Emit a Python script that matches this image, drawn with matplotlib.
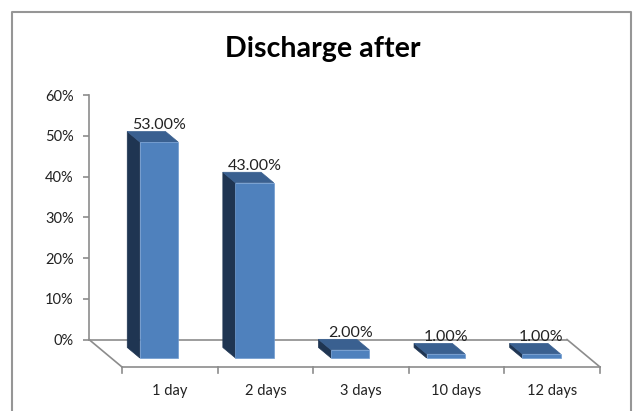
import matplotlib
matplotlib.use('Agg')
import matplotlib.pyplot as plt
from matplotlib.lines import Line2D
from matplotlib.patches import Polygon

categories = ['1 day', '2 days', '3 days', '10 days', '12 days']
values = [53, 43, 2, 1, 1]
value_labels = ['53.00%', '43.00%', '2.00%', '1.00%', '1.00%']
y_ticks = [0, 10, 20, 30, 40, 50, 60]

W, H = 636, 411
plt.rcParams['font.family'] = ['Lato', 'DejaVu Sans']

fig = plt.figure(figsize=(W / 100, H / 100), dpi=100)

# axes is the back wall of the fake 3d box
left, right, base, top = 89, 567, 339.5, 95
ax = fig.add_axes([left / W, (H - base) / H, (right - left) / W, (base - top) / H])
ax.set_xlim(0, len(categories))
ax.set_ylim(0, 60)

# oblique offset for depth: 0 = back wall, 1 = front of floor
dx = 33 / ((right - left) / len(categories))
dy = 27.5 / ((base - top) / 60)
px_y = 60 / (base - top)  # one pixel in y data units


def proj(x, y, d):
    return (x + d * dx, y - d * dy)


grey = '#8c8c8c'
for s in ['top', 'right']:
    ax.spines[s].set_visible(False)
for s in ['left', 'bottom']:
    ax.spines[s].set_color(grey)
    ax.spines[s].set_linewidth(1.2)

ax.set_xticks([])
ax.set_yticks(y_ticks)
ax.set_yticklabels([f'{v}%' for v in y_ticks], fontsize=10.5, color='#222222')
ax.tick_params(axis='y', length=4, width=1.2, color=grey, pad=7)

# floor edges and category ticks
n = len(categories)
for a, b in [((0, 0, 0), (0, 0, 1)), ((n, 0, 0), (n, 0, 1)), ((0, 0, 1), (n, 0, 1))]:
    p, q = proj(*a), proj(*b)
    ax.plot([p[0], q[0]], [p[1], q[1]], color=grey, lw=1.2, clip_on=False, zorder=2)
for i in range(n + 1):
    p = proj(i, 0, 1)
    ax.plot([p[0], p[0]], [p[1], p[1] - 6 * px_y], color=grey, lw=1.2, clip_on=False, zorder=2)

# bars
bar_w = 0.4
d_front, d_back = 0.673, 0.29
for i, v in enumerate(values):
    x0, x1 = i + 0.5 - bar_w / 2, i + 0.5 + bar_w / 2
    side = [proj(x0, 0, d_back), proj(x0, 0, d_front), proj(x0, v, d_front), proj(x0, v, d_back)]
    roof = [proj(x0, v, d_back), proj(x1, v, d_back), proj(x1, v, d_front), proj(x0, v, d_front)]
    face = [proj(x0, 0, d_front), proj(x1, 0, d_front), proj(x1, v, d_front), proj(x0, v, d_front)]
    ax.add_patch(Polygon(side, fc='#1f3552', ec='#1f3552', lw=0.5, clip_on=False, zorder=3))
    ax.add_patch(Polygon(roof, fc='#3a6090', ec='#3a6090', lw=0.5, clip_on=False, zorder=3))
    ax.add_patch(Polygon(face, fc='#4f81bd', ec='#6f9ad0', lw=0.5, clip_on=False, zorder=4))
    ly = proj(i + 0.5, v, d_back)[1]
    ax.annotate(value_labels[i], xy=(proj(i + 0.5, 0, d_front)[0], ly), xytext=(0, -0.6),
                textcoords='offset points', ha='center', va='bottom', fontsize=11.5,
                color='#222222', zorder=5, annotation_clip=False)
    fx = proj(i + 0.5, 0, 1)[0]
    ax.annotate(categories[i], xy=(fx, proj(0, 0, 1)[1]), xytext=(0, -24), textcoords='offset pixels',
                ha='center', va='center', fontsize=10.5, color='#222222', annotation_clip=False)

fig.text(323 / W, 1 - 49 / H, 'Discharge after', ha='center', va='center',
         fontsize=20.6, fontweight='bold', color='black')

# chart border, runs off the bottom of the screenshot
fig.add_artist(Line2D([12 / W, 12 / W, 631 / W, 631 / W],
                      [0, 1 - 12 / H, 1 - 12 / H, 0], color='#969696', lw=1.5))

fig.savefig('out.png', dpi=100)
